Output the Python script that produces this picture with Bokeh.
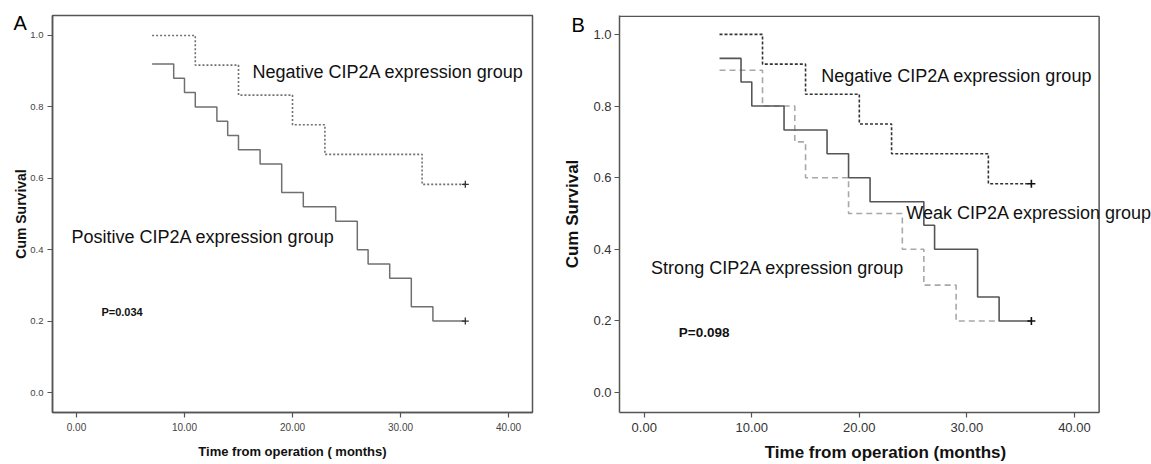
import math
from bokeh.plotting import figure
from bokeh.layouts import row
from bokeh.models import Label, FixedTicker, PrintfTickFormatter, Range1d, Title
from bokeh.embed import file_html
from bokeh.resources import INLINE

# ---------------- data ----------------
x_ticks = [0, 10, 20, 30, 40]
y_ticks = [0.0, 0.2, 0.4, 0.6, 0.8, 1.0]

# Panel A
a_neg_t = [7, 11, 15, 20, 23, 32, 36]
a_neg_s = [1.0, 0.917, 0.833, 0.75, 0.667, 0.583, 0.583]
a_pos_t = [7, 9, 10, 11, 13, 14, 15, 17, 19, 21, 24, 26, 27, 29, 31, 33, 36]
a_pos_s = [0.92, 0.88, 0.84, 0.80, 0.76, 0.72, 0.68, 0.64, 0.56, 0.52, 0.48,
           0.40, 0.36, 0.32, 0.24, 0.20, 0.20]
a_cens_t = [36, 36]
a_cens_s = [0.583, 0.20]

# Panel B
b_neg_t = [7, 11, 15, 20, 23, 32, 36]
b_neg_s = [1.0, 0.917, 0.833, 0.75, 0.667, 0.583, 0.583]
b_weak_t = [7, 9, 10, 13, 17, 19, 21, 26, 27, 31, 33, 36]
b_weak_s = [0.933, 0.867, 0.80, 0.733, 0.667, 0.60, 0.533, 0.467, 0.40,
            0.267, 0.20, 0.20]
b_strong_t = [7, 11, 14, 15, 19, 24, 26, 29, 33]
b_strong_s = [0.90, 0.80, 0.70, 0.60, 0.50, 0.40, 0.30, 0.20, 0.20]
b_cens_t = [36, 36]
b_cens_s = [0.583, 0.20]

FONT = "Liberation Sans"
FRAME = "#555555"

A_X = (-2.22, 42.22)
A_Y = (-0.0559, 1.0559)
B_X = (-2.30, 42.30)          # visible box of panel B
B_X_CANVAS = (-2.30, 47.17)   # frame extended so that text can overflow the box
B_Y = (-0.0556, 1.0528)


def base_fig(width, height, xr, yr, bl, br, bt, bb, tick_size, ytick_size,
             ytick_standoff, xtick_standoff, tick_color):
    p = figure(width=width, height=height, output_backend="svg",
               toolbar_location=None, x_range=Range1d(*xr), y_range=Range1d(*yr),
               min_border_left=bl, min_border_right=br,
               min_border_top=bt, min_border_bottom=bb)
    p.grid.visible = False
    p.outline_line_color = FRAME
    p.outline_line_width = 1.5
    p.background_fill_color = "white"
    p.border_fill_color = "white"
    p.xaxis.ticker = FixedTicker(ticks=x_ticks, minor_ticks=[])
    p.yaxis.ticker = FixedTicker(ticks=y_ticks, minor_ticks=[])
    p.xaxis.formatter = PrintfTickFormatter(format="%.2f")
    p.yaxis.formatter = PrintfTickFormatter(format="%.1f")
    for ax in (p.xaxis, p.yaxis):
        ax.axis_line_color = FRAME
        ax.axis_line_width = 1.5
        ax.major_tick_in = 0
        ax.major_tick_out = 5
        ax.major_tick_line_color = FRAME
        ax.major_tick_line_width = 1.2
        ax.minor_tick_in = 0
        ax.minor_tick_out = 0
        ax.major_label_text_font = FONT
        ax.major_label_text_color = tick_color
        ax.axis_label_text_font = FONT
        ax.axis_label_text_font_style = "bold"
        ax.axis_label_text_color = "#111111"
    p.xaxis.major_label_text_font_size = tick_size
    p.yaxis.major_label_text_font_size = ytick_size
    p.yaxis.major_label_standoff = ytick_standoff
    p.xaxis.major_label_standoff = xtick_standoff
    return p


def add_text(p, x, y, text, size, bold=False, color="#111111"):
    p.add_layout(Label(x=x, y=y, text=text, text_font=FONT,
                       text_font_size=size,
                       text_font_style="bold" if bold else "normal",
                       text_align="left", text_baseline="middle",
                       text_color=color))


def panel_letter(p, text, offset, standoff):
    p.add_layout(Title(text=text, align="left", vertical_align="bottom",
                       offset=offset, standoff=standoff, text_font=FONT,
                       text_font_size="20px", text_font_style="normal",
                       text_color="#000000"), "above")


# ---------------- Panel A ----------------
pa = base_fig(560, 464, A_X, A_Y, 52, 28, 15, 51,
              "10px", "9.5px", 4, 5, "#444444")
pa.xaxis.axis_label = "Time from operation ( months)"
pa.xaxis.axis_label_text_font_size = "13px"
pa.xaxis.axis_label_standoff = 10
pa.yaxis.axis_label = "Cum Survival"
pa.yaxis.axis_label_text_font_size = "14px"
pa.yaxis.axis_label_standoff = -2

pa.step(a_neg_t, a_neg_s, mode="after", line_color="#707070",
        line_width=1.6, line_dash="2 2")
pa.step(a_pos_t, a_pos_s, mode="after", line_color="#707070", line_width=1.5)
pa.scatter(a_cens_t, a_cens_s, marker="cross", size=7, line_width=1.3,
           color="#333333")

add_text(pa, 16.3, 0.899, "Negative CIP2A expression group", "18px")
add_text(pa, -0.46, 0.436, "Positive CIP2A expression group", "18px")
add_text(pa, 2.31, 0.226, "P=0.034", "11px", bold=True)
panel_letter(pa, "A", -39, -36)

# ---------------- Panel B ----------------
pb = base_fig(591, 464, B_X_CANVAS, B_Y, 53, 0, 13, 52,
              "13px", "13px", 3, 5, "#333333")
pb.outline_line_color = None
pb.xaxis.bounds = B_X
pb.xaxis.axis_label = "Time from operation (months)"
pb.xaxis.axis_label_text_font_size = "17px"
pb.xaxis.axis_label_standoff = 8
pb.yaxis.axis_label = "Cum Survival"
pb.yaxis.axis_label_text_font_size = "17px"
pb.yaxis.axis_label_standoff = 8

# top and right sides of panel B's box (left/bottom are the axes)
top_edge = B_Y[1] - 0.002
pb.segment(x0=[B_X[0], B_X[1]], y0=[top_edge, B_Y[0]],
           x1=[B_X[1], B_X[1]], y1=[top_edge, top_edge],
           line_color=FRAME, line_width=1.5)

pb.step(b_strong_t, b_strong_s, mode="after", line_color="#a8a8a8",
        line_width=1.6, line_dash="6 4")
pb.step(b_neg_t, b_neg_s, mode="after", line_color="#333333",
        line_width=1.6, line_dash="3 2")
pb.step(b_weak_t, b_weak_s, mode="after", line_color="#555555", line_width=1.6)
pb.scatter(b_cens_t, b_cens_s, marker="cross", size=8, line_width=1.6,
           color="#111111")

add_text(pb, 16.46, 0.883, "Negative CIP2A expression group", "18px")
add_text(pb, 24.37, 0.5, "Weak CIP2A expression group", "18px")
add_text(pb, 0.64, 0.347, "Strong CIP2A expression group", "18px")
add_text(pb, 3.22, 0.169, "P=0.098", "13.5px", bold=True)
panel_letter(pb, "B", -48, -40)

layout = row(pa, pb)
open("out.html", "w").write(file_html(layout, INLINE))
